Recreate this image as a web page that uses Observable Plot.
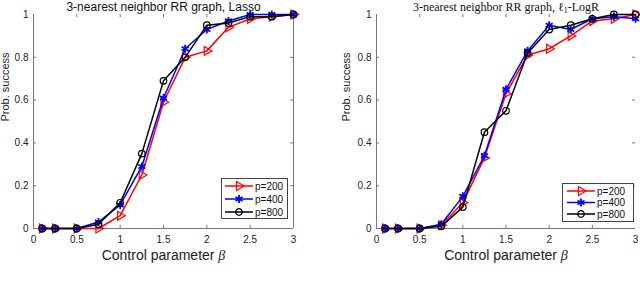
<!DOCTYPE html>
<html>
<head>
<meta charset="utf-8">
<script src="https://cdn.jsdelivr.net/npm/d3@7"></script>
<script src="https://cdn.jsdelivr.net/npm/@observablehq/plot@0.6"></script>
<style>
  html, body { margin: 0; padding: 0; background: #fff; }
  #wrap { position: relative; width: 640px; height: 283px; overflow: hidden; }
  .panel { position: absolute; top: 0; }
  .legend { position: absolute; }
</style>
</head>
<body>
<div id="wrap"></div>
<script>
// ---- data ----
const beta = [0.1, 0.25, 0.5, 0.75, 1, 1.25, 1.5, 1.75, 2, 2.25, 2.5, 2.75, 3];
const seriesNames = ["p=200", "p=400", "p=800"];
const seriesColors = ["#ff0000", "#0000ff", "#000000"];

const lassoP200 = [0, 0, 0, 0, 0.06, 0.25, 0.59, 0.80, 0.83, 0.94, 0.98, 0.99, 1.0];
const lassoP400 = [0, 0, 0, 0.03, 0.11, 0.29, 0.61, 0.84, 0.93, 0.97, 1.0, 1.0, 1.0];
const lassoP800 = [0, 0, 0, 0.02, 0.12, 0.35, 0.69, 0.80, 0.95, 0.96, 0.99, 0.99, 1.0];

const logrP200 = [0, 0, 0, 0.015, 0.12, 0.33, 0.63, 0.81, 0.84, 0.90, 0.97, 0.98, 1.0];
const logrP400 = [0, 0, 0, 0.02, 0.15, 0.34, 0.65, 0.83, 0.95, 0.93, 0.98, 0.99, 0.98];
const logrP800 = [0, 0, 0, 0.01, 0.10, 0.45, 0.55, 0.82, 0.93, 0.95, 0.98, 1.0, 1.0];

const xTicks = [0, 0.5, 1, 1.5, 2, 2.5, 3];
const yTicks = [0, 0.2, 0.4, 0.6, 0.8, 1];
const xTickLabels = ["0", "0.5", "1", "1.5", "2", "2.5", "3"];
const yTickLabels = ["0", "0.2", "0.4", "0.6", "0.8", "1"];

const titleLasso = "3-nearest neighbor RR graph, Lasso";
const titleLogR = "3-nearest neighbor RR graph, ℓ1-LogR";
const xLabel = "Control parameter β";
const yLabel = "Prob. success";

const SANS = "'Liberation Sans', Arial, Helvetica, sans-serif";
const SERIF = "'Liberation Serif', 'DejaVu Serif', serif";

function makeTable(vals) {
  const rows = [];
  vals.forEach((arr, si) => arr.forEach((v, i) => rows.push({beta: beta[i], prob: v, series: seriesNames[si]})));
  return rows;
}

const markerFor = [
  {symbol: "triangle", rotate: 90, fill: "none", strokeWidth: 1.2, r: 3.3, size: 34},
  {symbol: "asterisk", fill: "none", strokeWidth: 1.8, r: 3.8, size: 45},
  {symbol: "circle", fill: "none", strokeWidth: 1.2, r: 3.3, size: 34}
];

function panel(vals, opts) {
  const rows = makeTable(vals);
  const marks = [];
  const axisCol = "#777";
  marks.push(Plot.ruleY([0], {stroke: axisCol, strokeWidth: 1}));
  marks.push(Plot.ruleX([0], {stroke: axisCol, strokeWidth: 1}));
  if (opts.rightLine) marks.push(Plot.ruleX([3], {stroke: axisCol, strokeWidth: 1}));
  const tx = 0.015, ty = 0.035;
  marks.push(Plot.ruleX(xTicks.slice(1, -1), {x: d => d, y1: 0, y2: tx, stroke: axisCol}));
  marks.push(Plot.ruleX(xTicks.slice(1, -1), {x: d => d, y1: 1, y2: 1 - tx, stroke: axisCol}));
  marks.push(Plot.ruleY(yTicks.slice(1, -1), {y: d => d, x1: 0, x2: ty, stroke: axisCol}));
  marks.push(Plot.ruleY(yTicks.slice(1, -1), {y: d => d, x1: 3, x2: 3 - ty, stroke: axisCol}));
  marks.push(Plot.axisX(xTicks, {tickSize: 0, tickPadding: 7, tickFormat: (d) => xTickLabels[xTicks.indexOf(d)], fontSize: 10, label: null, fill: "#222"}));
  marks.push(Plot.axisY(yTicks, {tickSize: 0, tickPadding: 5, tickFormat: (d) => yTickLabels[yTicks.indexOf(d)], fontSize: 10, label: null, fill: "#222"}));
  seriesNames.forEach((s, si) => {
    const data = rows.filter(d => d.series === s);
    const m = markerFor[si];
    marks.push(Plot.line(data, {x: "beta", y: "prob", stroke: seriesColors[si], strokeWidth: 1.5}));
    marks.push(Plot.dot(data, {x: "beta", y: "prob", stroke: seriesColors[si], symbol: m.symbol, rotate: m.rotate || 0, fill: m.fill, strokeWidth: m.strokeWidth, r: m.r}));
  });
  marks.push(Plot.text([opts.title], {frameAnchor: "top", lineAnchor: "bottom", dy: -4, fontSize: opts.titleSize, fontFamily: opts.titleFont, fill: "#111", className: "ttl"}));
  marks.push(Plot.text([xLabel], {frameAnchor: "bottom", lineAnchor: "bottom", dy: 31, fontSize: 14, fill: "#222", className: "xlab"}));
  marks.push(Plot.text([yLabel], {frameAnchor: "left", dx: opts.ylabDx, rotate: -90, fontSize: 11, fill: "#222"}));

  const chart = Plot.plot({
    width: 320, height: 283,
    marginLeft: opts.ml, marginRight: opts.mr, marginTop: 14, marginBottom: 55,
    x: {domain: [0, 3]},
    y: {domain: [0, 1]},
    style: {fontFamily: SANS, background: "white", overflow: "visible"},
    marks
  });
  d3.select(chart).selectAll(".xlab text").each(function() {
    const t = d3.select(this);
    const s = t.text();
    const idx = s.indexOf("β");
    t.text(null);
    t.append("tspan").text(s.slice(0, idx));
    t.append("tspan").attr("font-family", SERIF).attr("font-style", "italic").text("β");
  });
  d3.select(chart).selectAll(".ttl text").each(function() {
    const t = d3.select(this);
    const s = t.text();
    const idx = s.indexOf("ℓ1");
    if (idx < 0) return;
    t.text(null);
    t.append("tspan").text(s.slice(0, idx + 1));
    t.append("tspan").attr("font-size", 8).attr("dy", 2).text("1");
    t.append("tspan").attr("dy", -2).text(s.slice(idx + 2));
  });
  return chart;
}

function legend(pos) {
  const w = pos.w, h = pos.h;
  const svg = d3.create("svg").attr("width", w).attr("height", h).attr("class", "legend")
    .style("left", pos.left + "px").style("top", pos.top + "px");
  svg.append("rect").attr("x", 0.5).attr("y", 0.5).attr("width", w - 1).attr("height", h - 1)
    .attr("fill", "white").attr("stroke", "#444");
  seriesNames.forEach((s, i) => {
    const y = pos.y0 + i * pos.dy;
    const c = seriesColors[i];
    svg.append("line").attr("x1", pos.lx1).attr("x2", pos.lx2).attr("y1", y).attr("y2", y)
      .attr("stroke", c).attr("stroke-width", 1.5);
    const mx = (pos.lx1 + pos.lx2) / 2;
    const m = markerFor[i];
    const sym = {triangle: d3.symbolTriangle, asterisk: d3.symbolAsterisk, circle: d3.symbolCircle}[m.symbol];
    svg.append("path").attr("d", d3.symbol(sym, m.size)())
      .attr("transform", `translate(${mx},${y}) rotate(${m.rotate || 0})`)
      .attr("fill", "none").attr("stroke", c).attr("stroke-width", m.strokeWidth);
    svg.append("text").attr("x", pos.tx).attr("y", y).attr("dy", "0.35em")
      .attr("font-family", SANS).attr("font-size", 10).attr("fill", "#111").text(s);
  });
  return svg.node();
}

const wrap = document.getElementById("wrap");
const left = panel([lassoP200, lassoP400, lassoP800], {title: titleLasso, titleFont: SANS, titleSize: 12, ml: 33, mr: 27, ylabDx: -28, rightLine: true});
left.classList.add("panel"); left.style.left = "0px";
const right = panel([logrP200, logrP400, logrP800], {title: titleLogR, titleFont: SERIF, titleSize: 12, ml: 56, mr: 5, ylabDx: -30, rightLine: false});
right.classList.add("panel"); right.style.left = "320px";
wrap.appendChild(left);
wrap.appendChild(right);
wrap.appendChild(legend({left: 221, top: 178, w: 67, h: 41, y0: 8, dy: 13, lx1: 4, lx2: 32, tx: 34}));
wrap.appendChild(legend({left: 562, top: 183, w: 72, h: 39, y0: 8, dy: 11.5, lx1: 5, lx2: 33, tx: 35}));
</script>
</body>
</html>
